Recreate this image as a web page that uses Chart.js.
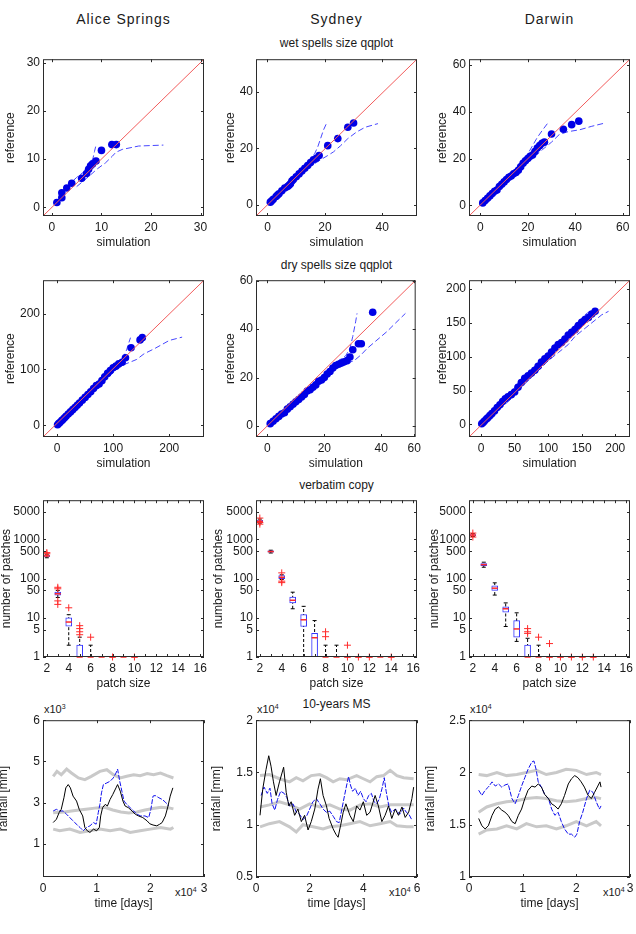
<!DOCTYPE html>
<html>
<head>
<meta charset="utf-8">
<script src="https://cdn.jsdelivr.net/npm/chart.js@4.4.0/dist/chart.umd.min.js"></script>
<style>
  body { margin: 0; background: #fff; width: 636px; height: 934px; position: relative; overflow: hidden;
         font-family: "Liberation Sans", Arial, sans-serif; color: #1a1a1a; }
  canvas { position: absolute; }
  .t { position: absolute; white-space: nowrap; transform: translate(-50%, -50%); font-size: 12px; }
  .col { font-size: 14px; letter-spacing: 1px; }
  .ex { position: absolute; white-space: nowrap; font-size: 11px; transform: translateY(-50%); }
  .ex sup { font-size: 7px; }
</style>
</head>
<body>

<div class="t col" style="left:123.5px;top:19px">Alice Springs</div>
<div class="t col" style="left:336.5px;top:19px">Sydney</div>
<div class="t col" style="left:549.5px;top:19px">Darwin</div>
<div class="t" style="left:336.5px;top:43px">wet spells size qqplot</div>
<div class="t" style="left:336.5px;top:265px">dry spells size qqplot</div>
<div class="t" style="left:336.5px;top:485px">verbatim copy</div>
<div class="t" style="left:336.5px;top:704px">10-years MS</div>

<div class="ex" style="left:44px;top:709px">x10<sup>3</sup></div>
<div class="ex" style="left:257px;top:709px">x10<sup>4</sup></div>
<div class="ex" style="left:470px;top:709px">x10<sup>4</sup></div>
<div class="ex" style="left:175px;top:892px">x10<sup>4</sup></div>
<div class="ex" style="left:389px;top:892px">x10<sup>4</sup></div>
<div class="ex" style="left:603px;top:892px">x10<sup>4</sup></div>

<script>
// ---------- wet spells qq (simulation, reference) ----------
const aliceWetSim = [1, 2, 2, 3, 4, 6, 7, 7.4, 7.8, 8.2, 8.9, 10, 12.1, 13];
const aliceWetRef = [1, 2, 3, 4, 5, 6, 7, 7.9, 8.6, 9, 9.6, 11.8, 13, 13];
const aliceWetUpSim = [3, 5, 6.5, 7.5, 8.3, 8.6, 8.9];
const aliceWetUpRef = [4.3, 6.2, 7.4, 8.6, 10.2, 11.6, 12.9];
const aliceWetLoSim = [5, 7, 9.2, 10.8, 12.2, 12.9, 14.2, 17.5, 22.5];
const aliceWetLoRef = [4.3, 6, 8, 9.2, 10.6, 11.4, 12, 12.7, 12.9];

const sydWetSim = [1, 1.5, 2, 3, 3.5, 4, 5, 6, 7, 7.5, 8, 8.5, 9, 10, 11, 12, 13, 14, 15, 16, 17, 18, 21, 24.5, 28, 30];
const sydWetRef = [1, 1.5, 2, 3, 3.5, 4, 5, 6, 6.5, 7, 7.5, 8.5, 9, 10, 11, 12, 13, 14, 15, 16, 16.5, 17.5, 21, 23.5, 27.5, 29];
const sydWetUpSim = [12, 14.5, 16.5, 17.5, 18.5, 19.5, 20.7];
const sydWetUpRef = [13, 15.5, 18.3, 20.5, 23.5, 26.5, 29.2];
const sydWetLoSim = [14, 17, 19, 21, 23, 25.5, 28, 31, 34, 38.5];
const sydWetLoRef = [13, 15, 16.3, 17.5, 18.8, 21, 23.5, 25.8, 27.5, 28.8];

const darWetSim = [1, 2, 3, 4, 5, 6, 7, 8, 9, 10, 11, 12, 13, 14, 15, 16, 17, 18, 19, 20, 21, 22, 23, 24, 25, 26, 27, 30, 35, 38.5, 41.5];
const darWetRef = [1, 2, 3, 4, 5, 6, 6.5, 8, 9, 10, 11, 12, 12.5, 13.5, 14, 15, 16.5, 18, 19, 20, 21, 21.5, 23, 24.5, 25.5, 26.5, 27, 30.5, 32.5, 34.5, 36];
const darWetUpSim = [16, 18, 20, 22, 24, 26.3, 28.9];
const darWetUpRef = [17, 19.5, 22, 25.5, 29, 32.3, 35.8];
const darWetLoSim = [20, 23, 26.3, 30, 33.2, 37, 41.9, 47, 52.2];
const darWetLoRef = [18.5, 21, 23.9, 27, 30.2, 31.5, 32.3, 33.8, 35.1];

// ---------- dry spells qq ----------
const aliceDrySim = [1, 3, 5, 8, 10, 13, 16, 20, 24, 28, 32, 36, 40, 45, 50, 55, 60, 65, 70, 75, 80, 85, 90, 95, 100, 105, 110, 116, 122, 132, 148, 152];
const aliceDryRef = [1, 3, 5, 8, 10, 13, 16, 20, 24, 28, 32, 36, 40, 45, 50, 55, 60, 66, 71, 74, 80, 87, 93, 98, 103, 106, 110, 113, 121, 139, 153, 157];
const aliceDryUpSim = [70, 85, 100, 110, 118, 124, 128, 131];
const aliceDryUpRef = [74, 92, 106, 113, 122, 135, 148, 157];
const aliceDryLoSim = [70, 85, 100, 110, 120, 130, 142, 155, 175, 200, 223];
const aliceDryLoRef = [66, 80, 94, 104, 109, 113, 118, 128, 138, 152, 158];

const sydDrySim = [1, 2, 3, 4, 5, 6, 7, 8, 9, 10, 11, 12, 13, 14, 15, 16, 17, 18, 19, 20, 21, 22, 23, 24, 25, 26, 27, 28, 29, 30, 32, 33, 37];
const sydDryRef = [1, 2, 3, 4, 5, 5.5, 7, 8, 9, 10, 11, 12, 13, 14.5, 15, 16, 17, 18.5, 19, 20, 21.5, 22.5, 24, 25, 25.5, 26, 26.5, 27, 28.5, 31.5, 34, 34, 47];
const sydDryUpSim = [22, 25, 27.5, 29, 30, 31, 31.5];
const sydDryUpRef = [24, 27, 29, 32, 37, 43, 46.5];
const sydDryLoSim = [28, 30.5, 33, 35, 38, 42, 45, 48.5];
const sydDryLoRef = [26, 27, 29.5, 32, 35, 39, 42.5, 46.5];

const darDrySim = [1, 3, 5, 8, 10, 13, 16, 20, 24, 28, 32, 36, 40, 45, 50, 55, 60, 65, 70, 75, 80, 85, 90, 95, 100, 105, 110, 115, 120, 125, 130, 135, 140, 145, 150, 155, 160, 165, 170];
const darDryRef = [1, 3, 5, 8, 10, 13, 16, 20, 25, 29, 34, 38, 41, 44, 48, 55, 62, 68, 72, 76, 80, 86, 92, 97, 101, 107, 113, 118, 121, 126, 132, 136, 140, 146, 151, 155, 158, 163, 167];
const darDryUpSim = [5, 20, 40, 60, 80, 95, 110, 120, 135, 145, 155, 162];
const darDryUpRef = [8, 24, 44, 66, 86, 100, 118, 126, 142, 152, 162, 167];
const darDryLoSim = [8, 25, 45, 60, 80, 100, 115, 130, 140, 155, 170, 180, 190];
const darDryLoRef = [4, 20, 38, 55, 74, 94, 106, 118, 130, 142, 154, 162, 167];

// ---------- verbatim copy boxplots (patch size -> number of patches) ----------
const aliceBoxX = [2, 3, 4, 5];
const aliceQ1 = [360, 38, 6.1, 1];
const aliceQ3 = [400, 45, 10, 2];
const aliceMedX = [2, 3, 4, 5, 6, 7, 8, 9, 10];
const aliceMed = [380, 41, 7.8, 1, 1, 1, 1, 1, 1];
const aliceWhiskX = [2, 3, 4, 5, 6];
const aliceWhiskLo = [340, 33, 2, 1, 1];
const aliceWhiskHi = [420, 50, 12, 3.2, 2];
const aliceOutX = [2, 2, 3, 3, 3, 3, 4, 5, 5, 5, 5, 6, 8, 10];
const aliceOutY = [430, 460, 60, 55, 27, 22, 18, 6.3, 5.3, 4.4, 3.7, 3.2, 1, 1];

const sydBoxX = [2, 3, 4, 5, 6, 7];
const sydQ1 = [2800, 470, 100, 24, 6, 1];
const sydQ3 = [3050, 510, 120, 34, 12, 4];
const sydMedX = [2, 3, 4, 5, 6, 7, 8, 9, 10, 11, 12, 13, 14];
const sydMed = [2900, 490, 108, 28, 8.9, 3.1, 1, 1, 1, 1, 1, 1, 1];
const sydWhiskX = [2, 3, 4, 5, 6, 7, 8, 9];
const sydWhiskLo = [2600, 450, 95, 17, 1, 1, 1, 1];
const sydWhiskHi = [3300, 530, 125, 45, 19.6, 8.5, 2, 2];
const sydOutX = [2, 2, 2, 4, 4, 4, 8, 8, 10, 10, 11, 12, 14];
const sydOutY = [3500, 2450, 2700, 140, 86, 79, 4.4, 3.3, 2, 1, 1, 1, 1];

const darBoxX = [2, 3, 4, 5, 6, 7];
const darQ1 = [1240, 215, 50, 14, 3.2, 1];
const darQ3 = [1330, 240, 65, 19, 8.5, 2];
const darMedX = [2, 3, 4, 5, 6, 7, 8, 9, 10, 11, 12, 13];
const darMed = [1290, 227, 57, 17, 5.2, 1, 1, 1, 1, 1, 1, 1];
const darWhiskX = [2, 3, 4, 5, 6, 7, 8];
const darWhiskLo = [1180, 195, 38, 6, 2.5, 1, 1];
const darWhiskHi = [1400, 262, 78, 24, 13.4, 3, 2];
const darOutX = [2, 2, 7, 7, 7, 8, 9, 9, 10, 11, 12, 13];
const darOutY = [1450, 1150, 5.3, 4.4, 4, 3.2, 2.2, 1, 1, 1, 1, 1];

// ---------- 10-years moving sum (time x10^4 days) ----------
const aliceRefT = [0.19, 0.25, 0.3, 0.34, 0.39, 0.425, 0.47, 0.51, 0.56, 0.625, 0.675, 0.74, 0.78, 0.825, 0.875, 0.94, 1.0, 1.05, 1.075, 1.11, 1.16, 1.2, 1.25, 1.3, 1.36, 1.39, 1.44, 1.49, 1.53, 1.59, 1.66, 1.72, 1.78, 1.86, 1.94, 1.99, 2.05, 2.12, 2.17, 2.22, 2.28, 2.33, 2.37, 2.42];
const aliceRefV = [2.04, 2.2, 2.52, 2.68, 3.24, 3.72, 3.88, 3.72, 3.32, 3.08, 2.68, 2.36, 1.8, 1.64, 1.56, 1.72, 1.64, 1.8, 2.36, 2.76, 2.92, 2.84, 3.16, 3.4, 3.72, 3.88, 3.56, 3.08, 2.84, 2.76, 2.6, 2.44, 2.36, 2.28, 2.12, 1.98, 1.92, 1.88, 1.95, 2.04, 2.36, 2.84, 3.32, 3.72];
const aliceSimT = [0.19, 0.25, 0.31, 0.375, 0.44, 0.5, 0.59, 0.69, 0.75, 0.81, 0.875, 0.94, 0.99, 1.03, 1.06, 1.09, 1.125, 1.19, 1.25, 1.31, 1.36, 1.39, 1.43, 1.47, 1.51, 1.56, 1.625, 1.69, 1.75, 1.82, 1.9, 1.97, 2.01, 2.05, 2.09, 2.16, 2.22, 2.28, 2.34];
const aliceSimV = [2.6, 2.68, 2.6, 2.6, 2.44, 2.28, 2.04, 1.8, 1.64, 1.8, 1.88, 2.04, 1.96, 2.52, 2.92, 3.48, 3.88, 3.96, 4.04, 4.2, 4.44, 4.63, 4.04, 3.56, 3.08, 2.92, 2.76, 2.6, 2.44, 2.36, 2.36, 2.28, 2.68, 3.32, 3.35, 3.24, 3.16, 3.03, 2.84];
const aliceHiT = [0.19, 0.26, 0.34, 0.44, 0.53, 0.66, 0.78, 0.9, 1.06, 1.19, 1.31, 1.44, 1.56, 1.69, 1.81, 1.94, 2.06, 2.19, 2.31, 2.43];
const aliceHiV = [4.28, 4.52, 4.36, 4.63, 4.44, 4.2, 4.12, 4.28, 4.52, 4.6, 4.36, 4.2, 4.28, 4.36, 4.31, 4.41, 4.36, 4.44, 4.31, 4.2];
const aliceMidT = [0.19, 0.4, 0.6, 0.8, 1.0, 1.15, 1.3, 1.45, 1.6, 1.75, 1.9, 2.05, 2.2, 2.35, 2.43];
const aliceMidV = [2.52, 2.55, 2.62, 2.68, 2.75, 2.78, 2.65, 2.55, 2.5, 2.55, 2.65, 2.72, 2.78, 2.75, 2.7];
const aliceLoT = [0.19, 0.31, 0.5, 0.69, 0.875, 1.06, 1.25, 1.44, 1.625, 1.81, 2.0, 2.19, 2.375, 2.43];
const aliceLoV = [1.72, 1.64, 1.72, 1.56, 1.64, 1.72, 1.64, 1.72, 1.56, 1.64, 1.72, 1.8, 1.72, 1.8];

const sydRefT = [0.15, 0.25, 0.375, 0.475, 0.56, 0.65, 0.75, 0.875, 1.03, 1.125, 1.225, 1.31, 1.44, 1.56, 1.69, 1.81, 1.94, 2.06, 2.19, 2.31, 2.4, 2.5, 2.625, 2.725, 2.875, 2.975, 3.06, 3.15, 3.25, 3.35, 3.5, 3.625, 3.75, 3.875, 4.0, 4.125, 4.25, 4.44, 4.56, 4.69, 4.81, 4.94, 5.06, 5.19, 5.31, 5.44, 5.56, 5.69, 5.81, 5.875];
const sydRefV = [1.09, 1.34, 1.53, 1.66, 1.56, 1.41, 1.28, 1.41, 1.55, 1.31, 1.18, 1.22, 1.09, 1.15, 1.03, 1.09, 0.95, 1.03, 1.15, 1.34, 1.44, 1.28, 1.18, 1.06, 0.96, 0.91, 0.88, 0.99, 1.12, 1.2, 1.09, 1.03, 1.18, 1.14, 1.22, 1.09, 1.12, 1.28, 1.18, 1.03, 1.09, 1.18, 1.06, 1.15, 1.09, 1.17, 1.07, 1.12, 1.25, 1.36];
const sydSimT = [0.19, 0.3, 0.42, 0.52, 0.6, 0.7, 0.8, 0.92, 1.05, 1.15, 1.25, 1.38, 1.5, 1.62, 1.75, 1.88, 2.0, 2.12, 2.25, 2.38, 2.5, 2.62, 2.75, 2.88, 3.0, 3.1, 3.2, 3.3, 3.38, 3.45, 3.52, 3.6, 3.7, 3.8, 3.9, 4.0, 4.1, 4.2, 4.3, 4.4, 4.5, 4.6, 4.7, 4.78, 4.85, 4.95, 5.05, 5.2, 5.35, 5.5, 5.6, 5.7, 5.8];
const sydSimV = [1.28, 1.36, 1.3, 1.35, 1.2, 1.14, 1.24, 1.32, 1.3, 1.26, 1.18, 1.2, 1.12, 1.1, 1.05, 1.08, 1.15, 1.22, 1.25, 1.2, 1.15, 1.12, 1.13, 1.08, 1.03, 1.02, 1.15, 1.28, 1.38, 1.46, 1.38, 1.32, 1.35, 1.28, 1.32, 1.25, 1.22, 1.28, 1.3, 1.22, 1.2, 1.25, 1.35, 1.45, 1.32, 1.18, 1.12, 1.15, 1.1, 1.16, 1.12, 1.1, 1.05];
const sydHiT = [0.15, 0.5, 0.875, 1.25, 1.5, 1.75, 2.06, 2.375, 2.625, 2.875, 3.125, 3.375, 3.75, 4.0, 4.25, 4.5, 4.75, 5.0, 5.25, 5.5, 5.875];
const sydHiV = [1.47, 1.48, 1.44, 1.41, 1.45, 1.42, 1.47, 1.48, 1.45, 1.41, 1.44, 1.43, 1.47, 1.44, 1.41, 1.46, 1.47, 1.52, 1.47, 1.45, 1.44];
const sydMidT = [0.15, 0.5, 0.875, 1.25, 1.625, 2.0, 2.375, 2.75, 3.125, 3.5, 3.875, 4.25, 4.625, 5.0, 5.375, 5.875];
const sydMidV = [1.17, 1.19, 1.22, 1.19, 1.15, 1.2, 1.17, 1.19, 1.15, 1.14, 1.19, 1.2, 1.17, 1.19, 1.19, 1.19];
const sydLoT = [0.15, 0.5, 0.875, 1.25, 1.5, 1.75, 2.125, 2.5, 2.75, 3.125, 3.5, 3.875, 4.25, 4.625, 5.0, 5.25, 5.625, 5.875];
const sydLoV = [0.98, 1.01, 1.03, 0.98, 0.93, 1.0, 0.98, 0.96, 0.98, 0.99, 1.01, 1.03, 0.99, 1.01, 1.03, 0.99, 0.98, 0.98];

const darRefT = [0.18, 0.24, 0.3, 0.36, 0.43, 0.49, 0.55, 0.61, 0.67, 0.73, 0.8, 0.86, 0.92, 0.98, 1.04, 1.1, 1.17, 1.23, 1.29, 1.35, 1.41, 1.48, 1.54, 1.6, 1.66, 1.72, 1.78, 1.85, 1.91, 1.97, 2.03, 2.09, 2.15, 2.22, 2.28, 2.34, 2.4, 2.44, 2.46];
const darRefV = [1.56, 1.49, 1.46, 1.49, 1.59, 1.65, 1.67, 1.64, 1.62, 1.59, 1.53, 1.51, 1.59, 1.65, 1.75, 1.83, 1.87, 1.86, 1.89, 1.86, 1.79, 1.75, 1.7, 1.68, 1.65, 1.7, 1.78, 1.89, 1.94, 1.97, 1.95, 1.91, 1.86, 1.78, 1.75, 1.81, 1.87, 1.91, 1.86];
const darSimT = [0.18, 0.24, 0.3, 0.36, 0.43, 0.49, 0.55, 0.61, 0.67, 0.73, 0.8, 0.86, 0.92, 0.98, 1.04, 1.1, 1.17, 1.21, 1.25, 1.29, 1.35, 1.41, 1.48, 1.54, 1.6, 1.66, 1.72, 1.78, 1.85, 1.91, 1.97, 2.01, 2.06, 2.12, 2.19, 2.25, 2.31, 2.37, 2.43, 2.46];
const darSimV = [1.83, 1.78, 1.83, 1.86, 1.91, 1.87, 1.89, 1.86, 1.88, 1.89, 1.75, 1.7, 1.78, 1.87, 1.95, 2.03, 2.1, 2.11, 2.03, 1.91, 1.86, 1.79, 1.75, 1.65, 1.59, 1.62, 1.53, 1.46, 1.41, 1.41, 1.38, 1.41, 1.53, 1.62, 1.75, 1.83, 1.81, 1.72, 1.65, 1.68];
const darGrayT = [0.18, 0.33, 0.52, 0.7, 0.89, 1.07, 1.26, 1.44, 1.63, 1.81, 2.0, 2.19, 2.37, 2.46];
const darHiV = [1.98, 1.97, 2.0, 1.97, 1.98, 2.0, 2.02, 1.98, 2.0, 2.03, 2.02, 1.98, 2.0, 1.98];
const darMidV = [1.62, 1.67, 1.7, 1.72, 1.73, 1.75, 1.76, 1.75, 1.73, 1.72, 1.73, 1.75, 1.76, 1.75];
const darLoV = [1.41, 1.45, 1.46, 1.49, 1.46, 1.51, 1.48, 1.49, 1.46, 1.49, 1.53, 1.49, 1.53, 1.49];

// ---------- tick labels ----------
const logTicks = [1, 5, 10, 50, 100, 500, 1000, 5000];
const patchTicks = [2, 3, 4, 5, 6, 7, 8, 9, 10, 11, 12, 13, 14, 15, 16];
const patchLabels = ['2', '', '4', '', '6', '', '8', '', '10', '', '12', '', '14', '', '16'];

// ---------- layout ----------
const COLS = [43, 256, 469];
const ROWS = [57, 278, 498, 718];
const BOX_W = 161, BOX_H = 159;

Chart.defaults.font.family = '"Liberation Sans", Arial, sans-serif';
Chart.defaults.color = '#1a1a1a';

// matlab style box with inward ticks on all four sides
const boxFrame = {
    id: 'boxFrame',
    afterDatasetsDraw(chart) {
        const { ctx, chartArea: a, scales: { x, y } } = chart;
        ctx.save();
        ctx.strokeStyle = '#2b2b2b';
        ctx.lineWidth = 1;
        ctx.strokeRect(a.left + 0.5, a.top + 0.5, a.width - 1, a.height - 1);
        ctx.beginPath();
        x.ticks.forEach(t => {
            const p = Math.round(x.getPixelForValue(t.value)) + 0.5;
            ctx.moveTo(p, a.bottom); ctx.lineTo(p, a.bottom - 3);
            ctx.moveTo(p, a.top); ctx.lineTo(p, a.top + 3);
        });
        y.ticks.forEach(t => {
            const p = Math.round(y.getPixelForValue(t.value)) + 0.5;
            ctx.moveTo(a.left, p); ctx.lineTo(a.left + 3, p);
            ctx.moveTo(a.right, p); ctx.lineTo(a.right - 3, p);
        });
        ctx.stroke();
        ctx.restore();
    }
};

function axis(a, title, pad, fit) {
    return {
        type: a.type || 'linear',
        min: a.min, max: a.max, offset: false,
        grid: { display: false, drawTicks: false },
        border: { display: false },
        ticks: {
            autoSkip: false, maxRotation: 0, minRotation: 0, padding: pad,
            font: { size: 12 }, color: '#1a1a1a',
            callback: (v, i) => a.labels[i]
        },
        afterBuildTicks: s => { s.ticks = a.ticks.map(v => ({ value: v })); },
        afterFit: fit,
        title: { display: true, text: title, padding: 0, font: { size: 12 }, color: '#1a1a1a' }
    };
}

function makePanel(col, row, yDist, xs, ys, xTitle, yTitle, datasets) {
    const yW = yDist + 7;
    const cv = document.createElement('canvas');
    cv.width = yW + BOX_W + 8;
    cv.height = 8 + BOX_H + 34;
    cv.style.left = (COLS[col] - yW) + 'px';
    cv.style.top = (ROWS[row] - 8) + 'px';
    document.body.appendChild(cv);
    return new Chart(cv, {
        type: 'scatter',
        data: { datasets },
        options: {
            responsive: false,
            animation: false,
            events: [],
            layout: { padding: { top: 8, right: 8, left: 0, bottom: 0 } },
            plugins: { legend: { display: false }, tooltip: { enabled: false } },
            scales: {
                x: axis(xs, xTitle, 4, s => { s.height = 34; }),
                y: axis(ys, yTitle, 3, s => { s.width = yW; })
            }
        },
        plugins: [boxFrame]
    });
}

const pts = (xs, ys) => xs.map((x, i) => ({ x, y: ys[i] }));

function dots(xs, ys) {
    return { type: 'scatter', data: pts(xs, ys), pointRadius: 3.8, backgroundColor: '#0000e6', borderWidth: 0, clip: 0 };
}
function envelope(xs, ys) {
    return { type: 'line', data: pts(xs, ys), borderColor: '#4747ff', borderWidth: 1, borderDash: [6, 3],
             pointRadius: 0, tension: 0, fill: false, clip: 0 };
}
function diagonal(xr, yr) {
    return { type: 'line', data: [{ x: xr[0], y: yr[0] }, { x: xr[1], y: yr[1] }], borderColor: '#f25c5c',
             borderWidth: 1, pointRadius: 0, tension: 0, clip: 0 };
}

function qqPanel(col, row, yDist, xr, yr, xT, xL, yT, yL, sim, ref, upS, upR, loS, loR) {
    makePanel(col, row, yDist,
        { min: xr[0], max: xr[1], ticks: xT, labels: xL },
        { min: yr[0], max: yr[1], ticks: yT, labels: yL },
        'simulation', 'reference',
        [diagonal(xr, yr), dots(sim, ref), envelope(upS, upR), envelope(loS, loR)]);
}

function boxPanel(col, yDist, bx, q1, q3, mx, med, wx, wlo, whi, ox, oy) {
    const whisk = [];
    const caps = [];
    wx.forEach((x, i) => {
        whisk.push({ x, y: wlo[i] }, { x, y: whi[i] }, { x, y: null });
        caps.push({ x, y: whi[i] });
        if (wlo[i] > 1) caps.push({ x, y: wlo[i] });
    });
    makePanel(col, 2, yDist,
        { min: 1.65, max: 16.35, ticks: patchTicks, labels: patchLabels },
        { type: 'logarithmic', min: 1, max: 10000, ticks: logTicks, labels: logTicks.map(String) },
        'patch size', 'number of patches',
        [
            { type: 'scatter', data: pts(ox, oy), pointStyle: 'cross', pointRadius: 3.5,
              borderColor: '#ff2a2a', borderWidth: 1, clip: false },
            { type: 'scatter', data: pts(mx, med), pointStyle: 'line', pointRadius: 3,
              borderColor: '#ff2a2a', borderWidth: 1.5, clip: false },
            { type: 'bar', data: bx.map((x, i) => ({ x, y: [q1[i], q3[i]] })), barThickness: 6,
              backgroundColor: '#ffffff', borderColor: '#3636ff', borderWidth: 1, borderSkipped: false, clip: 0 },
            { type: 'scatter', data: caps, pointStyle: 'line', pointRadius: 2, borderColor: '#000', borderWidth: 1, clip: 0 },
            { type: 'line', data: whisk, borderColor: '#000', borderWidth: 1, borderDash: [3, 2],
              pointRadius: 0, tension: 0, spanGaps: false, clip: 0 }
        ]);
}

function msPanel(col, yDist, xr, yr, xT, yT, yL, refT, refV, simT, simV, hiT, hiV, midT, midV, loT, loV) {
    const gray = (t, v) => ({ type: 'line', data: pts(t, v), borderColor: '#c9c9c9', borderWidth: 3,
                              pointRadius: 0, tension: 0, clip: 0 });
    makePanel(col, 3, yDist,
        { min: xr[0], max: xr[1], ticks: xT, labels: xT.map(String) },
        { min: yr[0], max: yr[1], ticks: yT, labels: yL },
        'time [days]', 'rainfall [mm]',
        [
            { type: 'line', data: pts(refT, refV), borderColor: '#000', borderWidth: 1, pointRadius: 0,
              tension: 0, clip: 0 },
            { type: 'line', data: pts(simT, simV), borderColor: '#1010ee', borderWidth: 1, borderDash: [5, 1.5],
              pointRadius: 0, tension: 0, clip: 0 },
            gray(hiT, hiV), gray(midT, midV), gray(loT, loV)
        ]);
}

// row 1: wet spells
qqPanel(0, 0, 33, [-1.8, 30.7], [-1.8, 30.7], [0, 10, 20, 30], ['0', '10', '20', '30'], [0, 10, 20, 30], ['0', '10', '20', '30'],
        aliceWetSim, aliceWetRef, aliceWetUpSim, aliceWetUpRef, aliceWetLoSim, aliceWetLoRef);
qqPanel(1, 0, 26, [-4, 52.1], [-3.9, 51.6], [0, 20, 40], ['0', '20', '40'], [0, 20, 40], ['0', '20', '40'],
        sydWetSim, sydWetRef, sydWetUpSim, sydWetUpRef, sydWetLoSim, sydWetLoRef);
qqPanel(2, 0, 27, [-4.8, 63.1], [-4.6, 62.5], [0, 20, 40, 60], ['0', '20', '40', '60'], [0, 20, 40, 60], ['0', '20', '40', '60'],
        darWetSim, darWetRef, darWetUpSim, darWetUpRef, darWetLoSim, darWetLoRef);

// row 2: dry spells
qqPanel(0, 1, 33, [-25, 262], [-21, 260], [0, 100, 200], ['0', '100', '200'], [0, 100, 200], ['0', '100', '200'],
        aliceDrySim, aliceDryRef, aliceDryUpSim, aliceDryUpRef, aliceDryLoSim, aliceDryLoRef);
qqPanel(1, 1, 26, [-4, 52.1], [-4.5, 60.2], [0, 20, 40, 51.6], ['0', '20', '40', '60'], [0, 20, 40, 60], ['0', '20', '40', '60'],
        sydDrySim, sydDryRef, sydDryUpSim, sydDryUpRef, sydDryLoSim, sydDryLoRef);
qqPanel(2, 1, 27, [-18, 222], [-18.5, 213], [0, 50, 100, 150, 200], ['0', '50', '100', '150', '200'],
        [0, 50, 100, 150, 200], ['0', '50', '100', '150', '200'],
        darDrySim, darDryRef, darDryUpSim, darDryUpRef, darDryLoSim, darDryLoRef);

// row 3: verbatim copy
boxPanel(0, 37, aliceBoxX, aliceQ1, aliceQ3, aliceMedX, aliceMed, aliceWhiskX, aliceWhiskLo, aliceWhiskHi, aliceOutX, aliceOutY);
boxPanel(1, 38, sydBoxX, sydQ1, sydQ3, sydMedX, sydMed, sydWhiskX, sydWhiskLo, sydWhiskHi, sydOutX, sydOutY);
boxPanel(2, 35, darBoxX, darQ1, darQ3, darMedX, darMed, darWhiskX, darWhiskLo, darWhiskHi, darOutX, darOutY);

// row 4: 10-years MS
msPanel(0, 40, [0, 3], [-0.6, 7], [0, 1, 2, 3], [1, 3, 5, 7], ['1', '3', '5', '6'],
        aliceRefT, aliceRefV, aliceSimT, aliceSimV, aliceHiT, aliceHiV, aliceMidT, aliceMidV, aliceLoT, aliceLoV);
msPanel(1, 40, [0, 6], [0.5, 2], [0, 2, 4, 6], [0.5, 1, 1.5, 2], ['0.5', '1', '1.5', '2'],
        sydRefT, sydRefV, sydSimT, sydSimV, sydHiT, sydHiV, sydMidT, sydMidV, sydLoT, sydLoV);
msPanel(2, 39, [0, 3], [1, 2.5], [0, 1, 2, 3], [1, 1.5, 2, 2.5], ['1', '1.5', '2', '2.5'],
        darRefT, darRefV, darSimT, darSimV, darGrayT, darHiV, darGrayT, darMidV, darGrayT, darLoV);
</script>
</body>
</html>
